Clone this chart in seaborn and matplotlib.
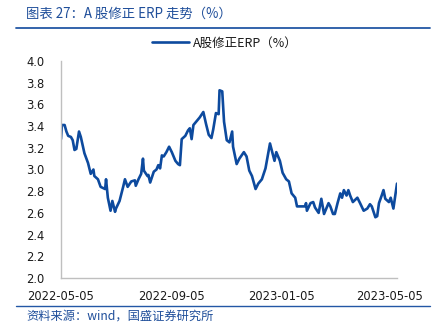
import matplotlib
matplotlib.use("Agg")
import matplotlib.pyplot as plt
import matplotlib.dates as mdates
from matplotlib.lines import Line2D
import seaborn as sns
import pandas as pd

dates = [
    "2022-05-05", "2022-05-06", "2022-05-09", "2022-05-11", "2022-05-13", "2022-05-16",
    "2022-05-18", "2022-05-20", "2022-05-22", "2022-05-25", "2022-05-27", "2022-05-31",
    "2022-06-04", "2022-06-07", "2022-06-10", "2022-06-11", "2022-06-15", "2022-06-18",
    "2022-06-23", "2022-06-24", "2022-06-26", "2022-06-29", "2022-07-01", "2022-07-04",
    "2022-07-05", "2022-07-09", "2022-07-13", "2022-07-15", "2022-07-18", "2022-07-22",
    "2022-07-26", "2022-07-27", "2022-07-30", "2022-08-02", "2022-08-04", "2022-08-05",
    "2022-08-09", "2022-08-10", "2022-08-12", "2022-08-16", "2022-08-19", "2022-08-21",
    "2022-08-23", "2022-08-25", "2022-08-27", "2022-08-30", "2022-09-02", "2022-09-05",
    "2022-09-09", "2022-09-12", "2022-09-14", "2022-09-16", "2022-09-20", "2022-09-23",
    "2022-09-25", "2022-09-27", "2022-09-29", "2022-10-03", "2022-10-06", "2022-10-10",
    "2022-10-13", "2022-10-16", "2022-10-19", "2022-10-21", "2022-10-24", "2022-10-27",
    "2022-10-28", "2022-10-31", "2022-11-02", "2022-11-05", "2022-11-08", "2022-11-11",
    "2022-11-12", "2022-11-16", "2022-11-19", "2022-11-24", "2022-11-27", "2022-11-30",
    "2022-12-03", "2022-12-07", "2022-12-10", "2022-12-14", "2022-12-18", "2022-12-23",
    "2022-12-28", "2022-12-30", "2023-01-03", "2023-01-06", "2023-01-10", "2023-01-13",
    "2023-01-16", "2023-01-20", "2023-01-22", "2023-01-31", "2023-02-01", "2023-02-02",
    "2023-02-06", "2023-02-09", "2023-02-11", "2023-02-15", "2023-02-18", "2023-02-21",
    "2023-02-26", "2023-02-28", "2023-03-03", "2023-03-05", "2023-03-08", "2023-03-11",
    "2023-03-13", "2023-03-15", "2023-03-18", "2023-03-20", "2023-03-22", "2023-03-25",
    "2023-03-30", "2023-04-02", "2023-04-06", "2023-04-10", "2023-04-13", "2023-04-15",
    "2023-04-19", "2023-04-21", "2023-04-23", "2023-04-26", "2023-04-28", "2023-04-30",
    "2023-05-04", "2023-05-06", "2023-05-09", "2023-05-13",
]
erp = [
    3.28, 3.41, 3.41, 3.35, 3.31, 3.30,
    3.27, 3.18, 3.19, 3.35, 3.30, 3.15,
    3.06, 2.96, 3.00, 2.94, 2.91, 2.84,
    2.82, 2.91, 2.74, 2.62, 2.71, 2.61,
    2.64, 2.71, 2.84, 2.91, 2.84, 2.89,
    2.90, 2.85, 2.91, 2.96, 3.10, 2.99,
    2.94, 2.95, 2.88, 2.98, 3.00, 3.04,
    3.01, 3.13, 3.12, 3.16, 3.21, 3.16,
    3.08, 3.05, 3.04, 3.28, 3.31, 3.36,
    3.38, 3.28, 3.41, 3.45, 3.48, 3.53,
    3.42, 3.32, 3.29, 3.37, 3.52, 3.51,
    3.73, 3.72, 3.44, 3.27, 3.25, 3.35,
    3.21, 3.05, 3.10, 3.16, 3.12, 2.99,
    2.94, 2.82, 2.87, 2.91, 3.01, 3.24,
    3.08, 3.16, 3.08, 2.97, 2.91, 2.89,
    2.78, 2.74, 2.66, 2.66, 2.69, 2.62,
    2.69, 2.70, 2.65, 2.60, 2.73, 2.59,
    2.69, 2.66, 2.59, 2.59, 2.69, 2.78,
    2.74, 2.81, 2.76, 2.81, 2.76, 2.70,
    2.74, 2.69, 2.62, 2.64, 2.68, 2.66,
    2.56, 2.57, 2.69, 2.76, 2.81, 2.73,
    2.70, 2.74, 2.64, 2.87,
]
xticks = ["2022-05-05", "2022-09-05", "2023-01-05", "2023-05-05"]
yticks = [2.0, 2.2, 2.4, 2.6, 2.8, 3.0, 3.2, 3.4, 3.6, 3.8, 4.0]
series_name = "A股修正ERP（%）"
title = "图表 27：A 股修正 ERP 走势（%）"
source = "资料来源：wind，国盛证券研究所"

sns.set_theme(style="white")
plt.rcParams["font.family"] = ["Noto Sans CJK SC", "DejaVu Sans"]

df = pd.DataFrame({"date": pd.to_datetime(dates), "value": erp})

W, H = 435, 336
fig = plt.figure(figsize=(W / 100, H / 100), dpi=100)
ax = fig.add_axes([61 / W, 1 - 278 / H, (397 - 61) / W, (278 - 61) / H])

line_color = "#0D4A9E"
sns.lineplot(data=df, x="date", y="value", ax=ax, color=line_color,
             linewidth=1.9, label=series_name)

ax.set_xlim(pd.Timestamp("2022-05-05"), pd.Timestamp("2023-05-13"))
ax.set_ylim(2.0, 4.0)
ax.set_xticks(pd.to_datetime(xticks))
ax.xaxis.set_major_formatter(mdates.DateFormatter("%Y-%m-%d"))
ax.set_yticks(yticks)
ax.set_yticklabels([f"{v:.1f}" for v in yticks])
ax.set_xlabel("")
ax.set_ylabel("")

for s in ["top", "right"]:
    ax.spines[s].set_visible(False)
for s in ["left", "bottom"]:
    ax.spines[s].set_color("#BFBFBF")
    ax.spines[s].set_linewidth(1.0)

ax.tick_params(axis="both", which="major", direction="in", length=3, width=0.8,
               color="#BFBFBF", labelsize=8.3, labelcolor="#1A1A1A")
ax.tick_params(axis="y", pad=12)
ax.tick_params(axis="x", pad=9)
for lab in ax.get_xticklabels() + ax.get_yticklabels():
    lab.set_fontfamily("DejaVu Sans")

leg = ax.legend(loc="center", bbox_to_anchor=(225 / W, 1 - 43 / H),
                bbox_transform=fig.transFigure, frameon=False, fontsize=9,
                handlelength=3.0, handletextpad=0.3, borderpad=0)
for t in leg.get_texts():
    t.set_color("#1A1A1A")

title_color = "#1F4E9A"
fig.text(26 / W, 1 - 14 / H, title, fontsize=9.6, color=title_color,
         ha="left", va="center")
fig.add_artist(Line2D([16 / W, 430 / W], [1 - 28 / H, 1 - 28 / H],
                      transform=fig.transFigure, color="#2357A5", linewidth=1.3))
fig.add_artist(Line2D([16 / W, 430 / W], [1 - 306 / H, 1 - 306 / H],
                      transform=fig.transFigure, color="#2357A5", linewidth=1.0))
fig.text(26 / W, 1 - 316 / H, source, fontsize=8.8, color=title_color,
         ha="left", va="center")

fig.savefig("out.png", dpi=100)
